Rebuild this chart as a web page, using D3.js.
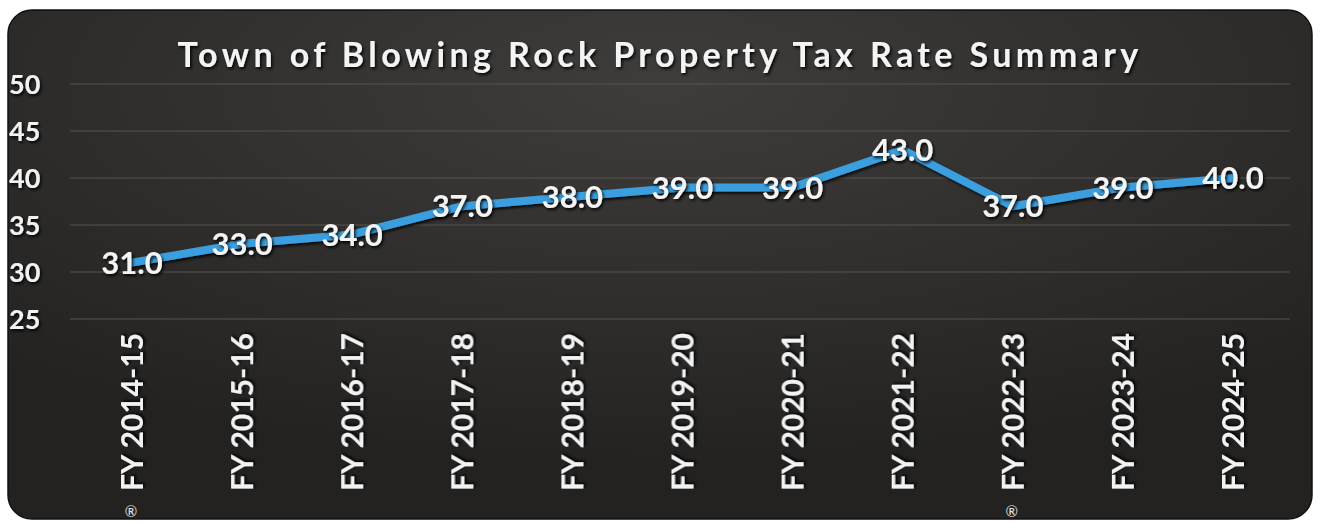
<!DOCTYPE html>
<html>
<head>
<meta charset="utf-8">
<script src="https://cdn.jsdelivr.net/npm/d3@7"></script>
<style>
    body { margin: 0; background: #ffffff; }
    svg { display: block; }
</style>
</head>
<body>
<div id="chart"></div>
<script>
const years = ["FY 2014-15", "FY 2015-16", "FY 2016-17", "FY 2017-18", "FY 2018-19", "FY 2019-20",
    "FY 2020-21", "FY 2021-22", "FY 2022-23", "FY 2023-24", "FY 2024-25"];
const taxRates = [31.0, 33.0, 34.0, 37.0, 38.0, 39.0, 39.0, 43.0, 37.0, 39.0, 40.0];
const yTicks = [25, 30, 35, 40, 45, 50];
const chartTitle = "Town of Blowing Rock Property Tax Rate Summary";

function drawTaxChart() {
    const width = 1321;
    const height = 523;
    const font = "Lato, 'Open Sans', sans-serif";

    const svg = d3.select("#chart")
        .append("svg")
        .attr("width", width)
        .attr("height", height);

    const defs = svg.append("defs");
    const bg = defs.append("radialGradient")
        .attr("id", "bg")
        .attr("cx", "50%").attr("cy", "15%").attr("r", "75%");
    bg.append("stop").attr("offset", "0%").attr("stop-color", "#3f3d3b");
    bg.append("stop").attr("offset", "100%").attr("stop-color", "#232221");

    const shadow = defs.append("filter").attr("id", "shadow")
        .attr("x", "-10%").attr("y", "-10%").attr("width", "120%").attr("height", "140%");
    shadow.append("feDropShadow")
        .attr("dx", 1.5).attr("dy", 2).attr("stdDeviation", 1.5)
        .attr("flood-color", "#000").attr("flood-opacity", 0.9);

    svg.append("rect")
        .attr("x", 8).attr("y", 10)
        .attr("width", 1304).attr("height", 509)
        .attr("rx", 24)
        .attr("fill", "url(#bg)")
        .attr("stroke", "#111")
        .attr("stroke-width", 1.5);

    const x = d3.scalePoint()
        .domain(years)
        .range([132, 1233]);

    const y = d3.scaleLinear()
        .domain([25, 50])
        .range([319, 84]);

    // gridlines
    svg.append("g")
        .selectAll("line")
        .data(yTicks)
        .enter()
        .append("line")
        .attr("x1", 70)
        .attr("x2", 1290)
        .attr("y1", d => y(d))
        .attr("y2", d => y(d))
        .attr("stroke", "#56524f")
        .attr("stroke-width", 1);

    // y labels
    svg.append("g")
        .selectAll("text")
        .data(yTicks)
        .enter()
        .append("text")
        .attr("x", 9)
        .attr("y", d => y(d))
        .attr("dy", "0.36em")
        .style("font-family", font)
        .style("font-size", "27px")
        .style("font-weight", "700")
        .style("fill", "#f2f2f2")
        .attr("filter", "url(#shadow)")
        .text(d => d);

    // x labels
    svg.append("g")
        .selectAll("text")
        .data(years)
        .enter()
        .append("text")
        .attr("transform", d => `translate(${x(d)}, 333) rotate(-90)`)
        .attr("text-anchor", "end")
        .attr("dy", "0.36em")
        .style("font-family", font)
        .style("font-size", "30px")
        .style("font-weight", "700")
        .style("fill", "#f2f2f2")
        .attr("filter", "url(#shadow)")
        .text(d => d);

    // scanner marks
    svg.append("g")
        .selectAll("text")
        .data([years[0], years[8]])
        .enter()
        .append("text")
        .attr("x", d => x(d) - 1)
        .attr("y", 517)
        .attr("text-anchor", "middle")
        .style("font-family", font)
        .style("font-size", "15px")
        .style("fill", "#e6e6e6")
        .text("\u00AE");

    // line
    const line = d3.line()
        .x((d, i) => x(years[i]))
        .y(d => y(d));

    svg.append("path")
        .datum(taxRates)
        .attr("d", line)
        .attr("fill", "none")
        .attr("stroke", "#3a9fdf")
        .attr("stroke-width", 8)
        .attr("stroke-linejoin", "round")
        .attr("stroke-linecap", "round")
        .attr("filter", "url(#shadow)");

    // data labels
    svg.append("g")
        .selectAll("text")
        .data(taxRates)
        .enter()
        .append("text")
        .attr("x", (d, i) => x(years[i]))
        .attr("y", d => y(d))
        .attr("dy", "0.36em")
        .attr("text-anchor", "middle")
        .style("font-family", font)
        .style("font-size", "31px")
        .style("font-weight", "700")
        .style("fill", "#f4f4f4")
        .attr("filter", "url(#shadow)")
        .text(d => d.toFixed(1));

    // title
    svg.append("text")
        .attr("x", 660)
        .attr("y", 67)
        .attr("text-anchor", "middle")
        .style("font-family", font)
        .style("font-size", "34px")
        .style("font-weight", "700")
        .style("letter-spacing", "4.4px")
        .style("fill", "#f4f4f4")
        .attr("filter", "url(#shadow)")
        .text(chartTitle);
}

drawTaxChart();
</script>
</body>
</html>
